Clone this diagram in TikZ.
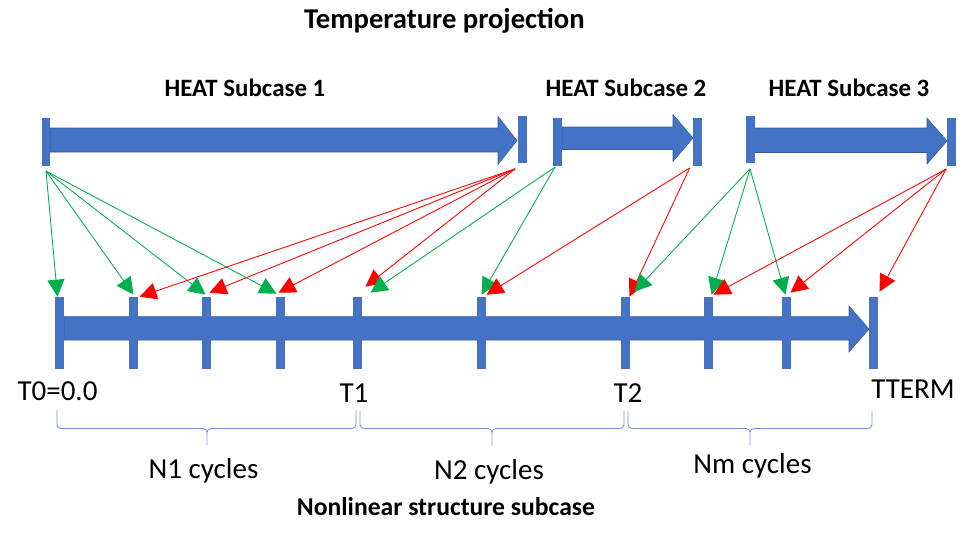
\documentclass[tikz,border=0pt]{standalone}
\usepackage{fontspec}
\setmainfont{Carlito}
\usepackage{xcolor}
\usepackage{tikz}
\usetikzlibrary{
    arrows.meta,
}

\definecolor{barblue}{HTML}{4472C4}
\definecolor{projgreen}{HTML}{00B050}
\definecolor{projred}{HTML}{FF0000}

\begin{document}
\begin{tikzpicture}[
        x=0.02cm, y=-0.02cm,
        bar/.style={
            rectangle, fill=barblue, inner sep=0pt,
            minimum width=0.18cm, minimum height=0.96cm
        },
        tick/.style={bar, minimum height=1.44cm},
        blockarrow/.style={fill=barblue, draw=barblue!80!black, line width=0.3pt},
        greenproj/.style={-{Triangle[length=0.34cm, width=0.34cm]}, projgreen, line width=0.5pt},
        redproj/.style={-{Triangle[length=0.34cm, width=0.34cm]}, projred, line width=0.5pt},
        cyclebrace/.style={barblue!75, line width=0.5pt, rounded corners=0.08cm},
        heading/.style={anchor=base, font=\bfseries\fontsize{14.2}{17}\selectfont},
        label/.style={anchor=base, font=\fontsize{16.5}{20}\selectfont},
    ]
    \useasboundingbox (0,0) rectangle (975,538);

    % ── Titles ──
    \node[heading, font=\bfseries\fontsize{16.3}{20}\selectfont] (title) at (444.5,28.5) {Temperature projection};
    \node[heading] (heat1) at (245,96.7) {HEAT Subcase 1};
    \node[heading] (heat2) at (626,96.7) {HEAT Subcase 2};
    \node[heading] (heat3) at (849,96.7) {HEAT Subcase 3};

    % ── Top row: heat subcases ──
    \filldraw[blockarrow] (50,128) -- (498,128) -- (498,116.5) -- (517,140.5)
        -- (498,164.5) -- (498,152) -- (50,152) -- cycle;
    \filldraw[blockarrow] (562,127) -- (673,127) -- (673,114.5) -- (693,138)
        -- (673,161.5) -- (673,149.5) -- (562,149.5) -- cycle;
    \filldraw[blockarrow] (754,128) -- (927,128) -- (927,118) -- (947,141)
        -- (927,164) -- (927,152.5) -- (754,152.5) -- cycle;
    \node[bar] (h1l) at (46,141.7) {};
    \node[bar] (h1r) at (522,139.5) {};
    \node[bar] (h2l) at (557,141.7) {};
    \node[bar] (h2r) at (697.5,141.7) {};
    \node[bar] (h3l) at (750,139.5) {};
    \node[bar] (h3r) at (951,141.7) {};

    % ── Bottom row: nonlinear structure time line ──
    \filldraw[blockarrow] (64,316.7) -- (849,316.7) -- (849,306) -- (869,329)
        -- (849,352) -- (849,340) -- (64,340) -- cycle;
    \foreach \x [count=\i from 0] in {59.5,133.5,206.5,280.5,357.5,481.5,625.5,708.5,786.5,873.5}
        \node[tick] (t\i) at (\x,333) {};

    % ── Projection arrows ──
    \coordinate (g1) at ([shift={(0,5)}]h1l.south);
    \coordinate (r1) at ([shift={(-2,5)}]h1r.south west);
    \coordinate (g2) at ([shift={(-2,1)}]h2l.south);
    \coordinate (r2) at ([shift={(-3,2)}]h2r.south west);
    \coordinate (g3) at ([shift={(0,5)}]h3l.south);
    \coordinate (r3) at ([shift={(0,3)}]h3r.south west);

    \draw[greenproj] (g1) -- ([shift={(-2,0)}]t0.north);
    \draw[greenproj] (g1) -- ([shift={(0,-2)}]t1.north);
    \draw[greenproj] (g1) -- ([shift={(-1,-2)}]t2.north);
    \draw[greenproj] (g1) -- ([shift={(-4,-3)}]t3.north);

    \draw[redproj] (r1) -- ([shift={(6,0)}]t1.north);
    \draw[redproj] (r1) -- ([shift={(3,-4)}]t2.north);
    \draw[redproj] (r1) -- ([shift={(-2,-4)}]t3.north);
    \draw[redproj] (r1) -- ([shift={(8,-10)}]t4.north);

    \draw[greenproj] (g2) -- ([shift={(13,-4)}]t4.north);
    \draw[greenproj] (g2) -- ([shift={(0,-2)}]t5.north);

    \draw[redproj] (r2) -- ([shift={(5,-2)}]t5.north);
    \draw[redproj] (r2) -- ([shift={(4,0)}]t6.north);

    \draw[greenproj] (g3) -- ([shift={(9,-5)}]t6.north);
    \draw[greenproj] (g3) -- ([shift={(3,-2)}]t7.north);
    \draw[greenproj] (g3) -- ([shift={(-1,-2)}]t8.north);

    \draw[redproj] (r3) -- ([shift={(5,-2)}]t7.north);
    \draw[redproj] (r3) -- ([shift={(4,-4)}]t8.north);
    \draw[redproj] (r3) -- ([shift={(6,-5)}]t9.north);

    % ── Time labels ──
    \node[label] (lblT0) at (57.5,400) {T0=0.0};
    \node[label] (lblT1) at (354,402.5) {T1};
    \node[label] (lblT2) at (628,402.7) {T2};
    \node[label] (lblTT) at (913,398.5) {TTERM};

    % ── Cycle braces ──
    \foreach \a/\m/\b/\top in {57/207/356/410, 360/492/624/411, 628/750/872/411}
        \draw[cyclebrace] (\a,\top) -- (\a,428.5) -- (\m,428.5) -- (\m,445)
            (\m,445) -- (\m,428.5) -- (\b,428.5) -- (\b,\top);
    \node[label] (cyc1) at (203.5,478) {N1 cycles};
    \node[label] (cyc2) at (489,479) {N2 cycles};
    \node[label] (cycm) at (752.5,473.3) {Nm cycles};
    \node[heading, font=\bfseries\fontsize{14.6}{18}\selectfont] (nlsub) at (446,515) {Nonlinear structure subcase};

\end{tikzpicture}
\end{document}
